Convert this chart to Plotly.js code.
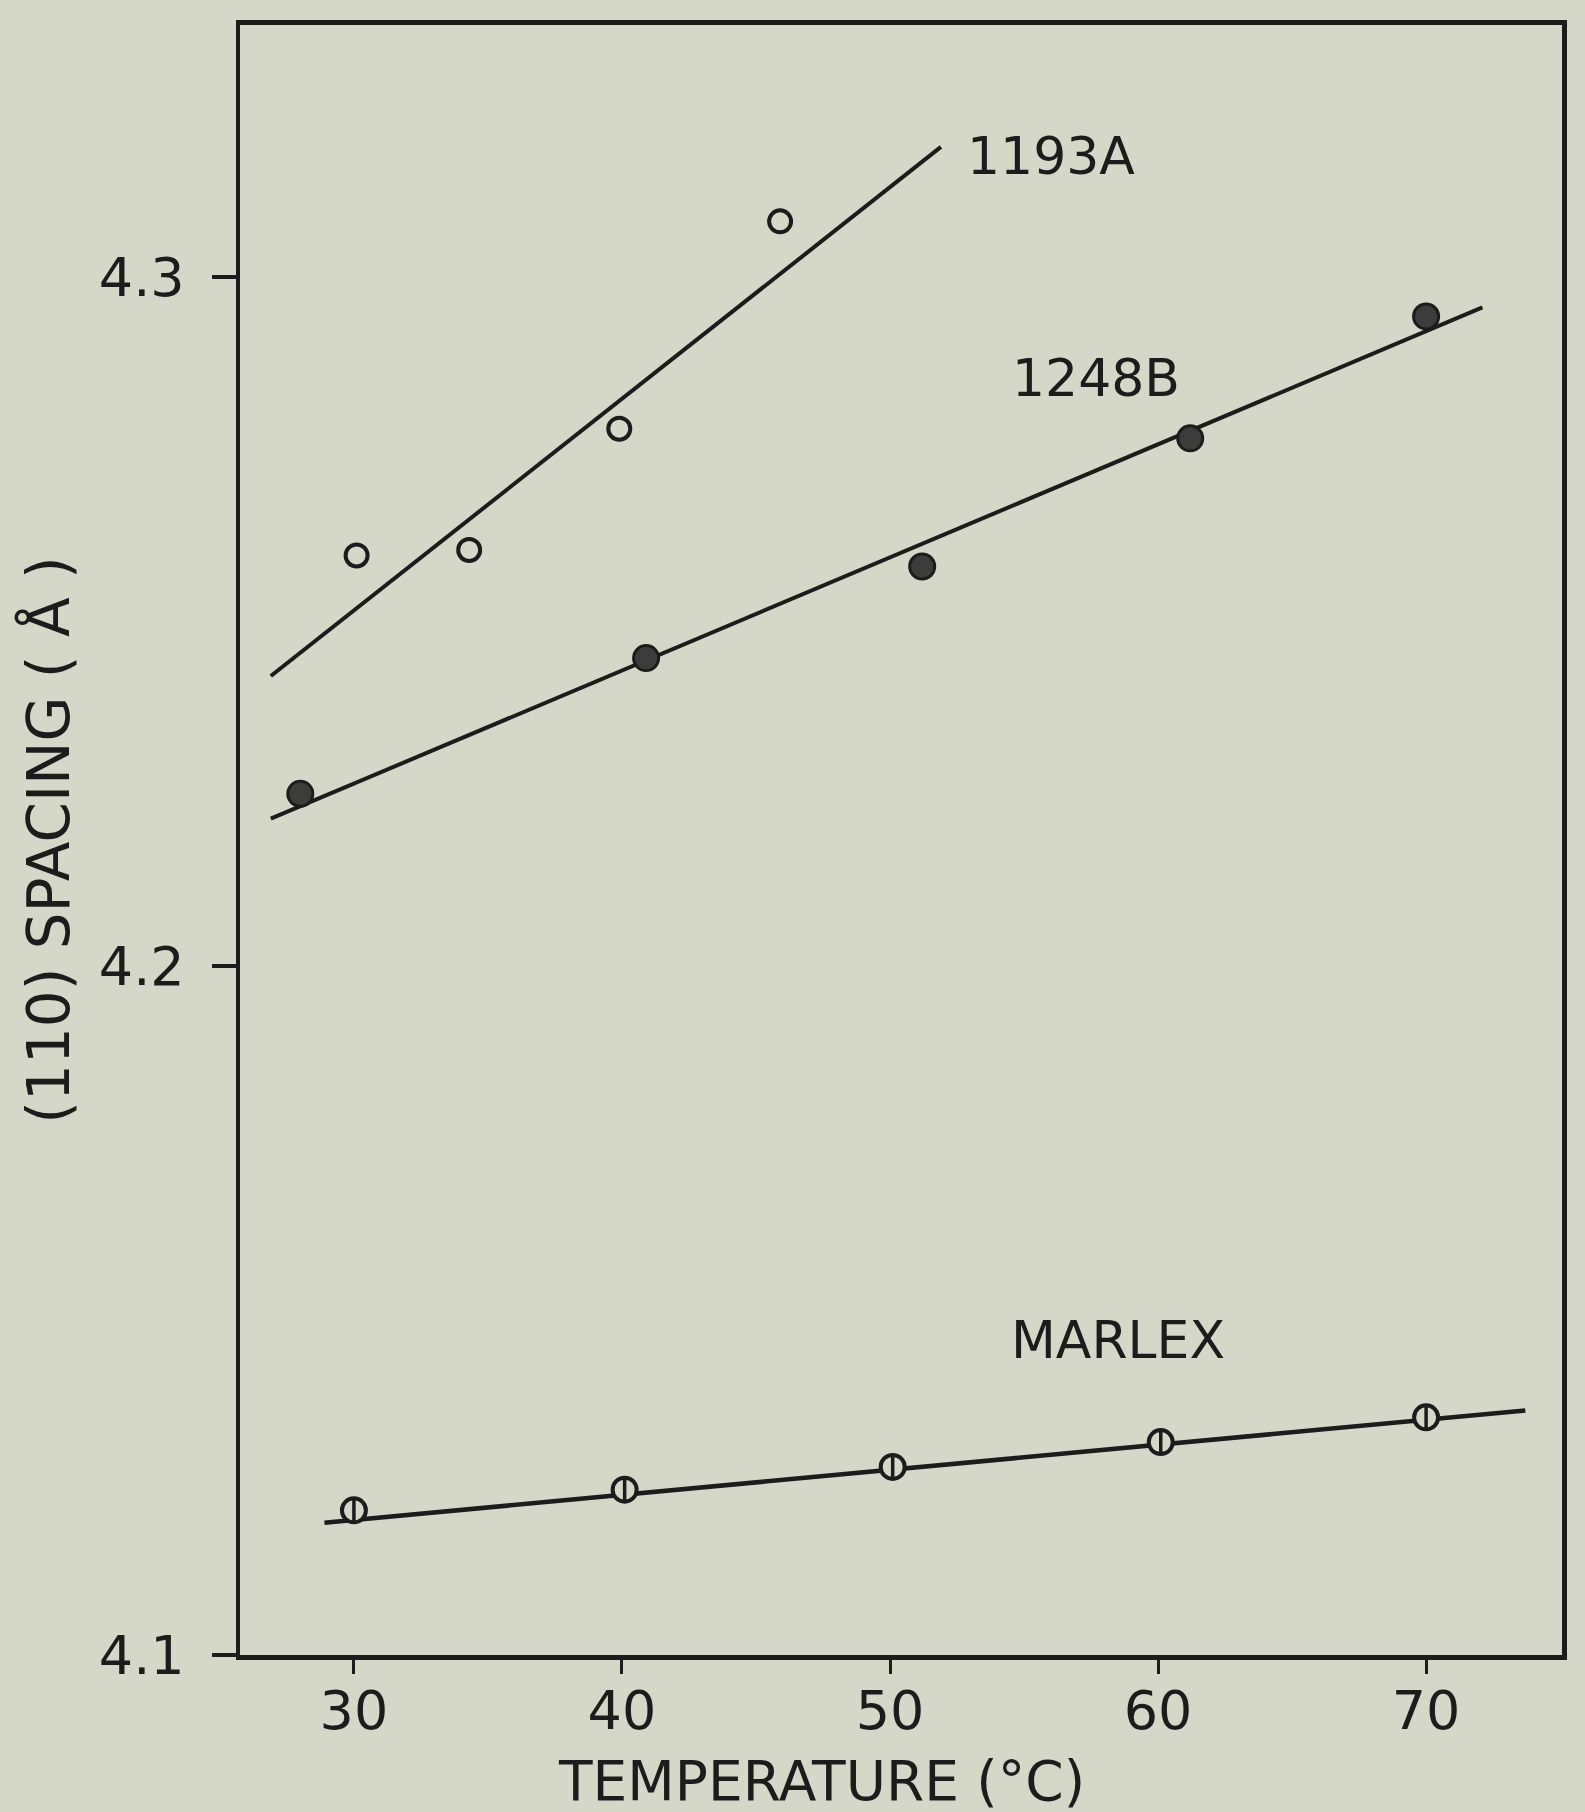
<!DOCTYPE html>
<html>
<head>
<meta charset="utf-8">
<script src="https://cdn.plot.ly/plotly-3.0.1.min.js"></script>
<style>
  html, body { margin: 0; padding: 0; background: #d5d8c8; }
  #chart { width: 1585px; height: 1812px; }
</style>
</head>
<body>
<div id="chart"></div>
<script>
// ---- data ----
const tempTicks = [30, 40, 50, 60, 70];
const tempTickLabels = ["30", "40", "50", "60", "70"];
const spacingTicks = [4.1, 4.2, 4.3];
const spacingTickLabels = ["4.1", "4.2", "4.3"];

// 1193A (open circles)
const a1193_T = [30.1, 34.3, 39.9, 45.9];
const a1193_d = [4.2596, 4.2604, 4.2780, 4.3081];
const a1193_lineT = [26.9, 51.9];
const a1193_lineD = [4.2421, 4.3189];

// 1248B (filled circles)
const b1248_T = [28.0, 40.9, 51.2, 61.2, 70.0];
const b1248_d = [4.2250, 4.2447, 4.2580, 4.2766, 4.2943];
const b1248_lineT = [26.9, 72.1];
const b1248_lineD = [4.2214, 4.2956];

// MARLEX (circles with vertical bar)
const marlex_T = [30.0, 40.1, 50.1, 60.1, 70.0];
const marlex_d = [4.1210, 4.1240, 4.1273, 4.1309, 4.1345];
const marlex_lineT = [28.9, 73.7];
const marlex_lineD = [4.1192, 4.1355];

// labels
const labelText = ["1193A", "1248B", "MARLEX"];
const labelT = [56.0, 57.7, 58.5];
const labelD = [4.3176, 4.2853, 4.1457];

const xTitle = "TEMPERATURE (°C)";
const yTitle = "(110) SPACING ( Å )";

const ink = "#1c1c1c";
const bg = "#d5d8c8";
const fontFam = "DejaVu Sans, Liberation Sans, sans-serif";

const traces = [
  { x: a1193_lineT, y: a1193_lineD, mode: "lines", line: { color: ink, width: 4 }, showlegend: false, hoverinfo: "skip" },
  { x: b1248_lineT, y: b1248_lineD, mode: "lines", line: { color: ink, width: 4 }, showlegend: false, hoverinfo: "skip" },
  { x: marlex_lineT, y: marlex_lineD, mode: "lines", line: { color: ink, width: 4.5 }, showlegend: false, hoverinfo: "skip" },
  { x: a1193_T, y: a1193_d, mode: "markers", name: "1193A",
    marker: { symbol: "circle", size: 22, color: bg, line: { color: ink, width: 4 } }, showlegend: false },
  { x: b1248_T, y: b1248_d, mode: "markers", name: "1248B",
    marker: { symbol: "circle", size: 25, color: "#3c3c3a", line: { color: ink, width: 3 } }, showlegend: false },
  { x: marlex_T, y: marlex_d, mode: "markers", name: "MARLEX",
    marker: { symbol: "circle", size: 24, color: bg, line: { color: ink, width: 4 } }, showlegend: false },
  { x: marlex_T, y: marlex_d, mode: "markers", name: "MARLEX bar", hoverinfo: "skip",
    marker: { symbol: "line-ns", size: 17, color: ink, line: { color: ink, width: 3.5 } }, showlegend: false }
];

const annotations = labelText.map((t, i) => ({
  x: labelT[i], y: labelD[i], xref: "x", yref: "y", text: t, showarrow: false,
  font: { family: fontFam, size: 52, color: ink }, xanchor: "center", yanchor: "middle"
}));
annotations.push({
  x: 0.44, y: -0.077, xref: "paper", yref: "paper", text: xTitle, showarrow: false,
  font: { family: fontFam, size: 55, color: ink }, xanchor: "center", yanchor: "middle"
});

const layout = {
  width: 1585, height: 1812,
  paper_bgcolor: bg, plot_bgcolor: bg,
  margin: { l: 240, r: 23, t: 25, b: 157 },
  showlegend: false,
  font: { family: fontFam, color: ink, size: 54 },
  xaxis: {
    range: [25.75, 75.07],
    tickmode: "array", tickvals: tempTicks, ticktext: tempTickLabels,
    ticks: "outside", ticklen: 14, tickwidth: 3, tickcolor: ink,
    ticklabelstandoff: -10,
    tickfont: { family: fontFam, size: 54, color: ink },
    showline: true, linecolor: ink, linewidth: 5, mirror: true,
    showgrid: false, zeroline: false
  },
  yaxis: {
    range: [4.1, 4.3366],
    tickmode: "array", tickvals: spacingTicks, ticktext: spacingTickLabels,
    ticks: "outside", ticklen: 24, tickwidth: 4, tickcolor: ink,
    ticklabelstandoff: 16,
    tickfont: { family: fontFam, size: 54, color: ink },
    showline: true, linecolor: ink, linewidth: 4.5, mirror: true,
    showgrid: false, zeroline: false,
    title: { text: yTitle, font: { family: fontFam, size: 58, color: ink }, standoff: 12 }
  },
  annotations: annotations
};

Plotly.newPlot("chart", traces, layout, { displayModeBar: false, staticPlot: true });
</script>
</body>
</html>
